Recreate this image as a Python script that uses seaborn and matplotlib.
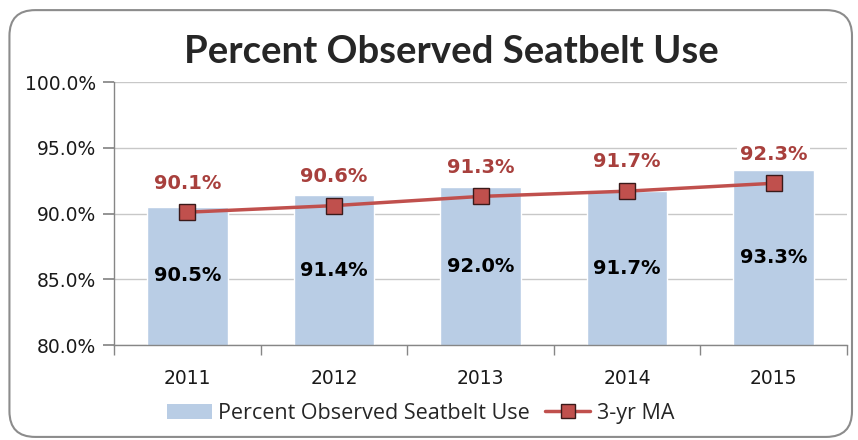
import matplotlib
matplotlib.use("Agg")
import matplotlib.pyplot as plt
import numpy as np
import pandas as pd
import seaborn as sns
from matplotlib.lines import Line2D
from matplotlib.patches import FancyBboxPatch, Patch
from matplotlib.ticker import FixedLocator, PercentFormatter

years = ["2011", "2012", "2013", "2014", "2015"]
observed = [90.5, 91.4, 92.0, 91.7, 93.3]
moving_avg = [90.1, 90.6, 91.3, 91.7, 92.3]

BAR_COLOR = "#B9CDE5"
LINE_COLOR = "#C0504D"
LABEL_RED = "#A8403D"
AXIS_GRAY = "#868686"

sns.set_theme(style="white")
plt.rcParams["font.family"] = ["DejaVu Sans"]

df = pd.DataFrame({"year": years, "observed": observed, "ma": moving_avg})

fig = plt.figure(figsize=(8.58, 4.40), dpi=100)
ax = fig.add_axes([0.1329, 0.2159, 0.8543, 0.5977])

# rounded chart border
fig.patches.append(FancyBboxPatch((0.011, 0.007), 0.982, 0.97,
                                  boxstyle="round,pad=0,rounding_size=0.03",
                                  transform=fig.transFigure, fill=False,
                                  edgecolor="#8C8C8C", linewidth=1.5,
                                  mutation_aspect=858 / 440))

sns.barplot(data=df, x="year", y="observed", color=BAR_COLOR, width=0.55,
            saturation=1, ax=ax, zorder=2)
ax.plot(np.arange(len(years)), moving_avg, color=LINE_COLOR, linewidth=2.5,
        marker="s", markersize=11.5, markerfacecolor=LINE_COLOR,
        markeredgecolor="#3A1A1A", markeredgewidth=1.0, zorder=4)

ax.set_ylim(80, 100)
ax.set_xlim(-0.5, len(years) - 0.5)
ax.yaxis.set_major_locator(FixedLocator([80, 85, 90, 95, 100]))
ax.yaxis.set_major_formatter(PercentFormatter(decimals=1))
ax.grid(axis="y", color="#C8C8C8", linewidth=1.0, zorder=0)
ax.set_axisbelow(True)

for side in ["top", "right"]:
    ax.spines[side].set_visible(False)
for side in ["left", "bottom"]:
    ax.spines[side].set_color(AXIS_GRAY)
    ax.spines[side].set_linewidth(1.0)

ax.tick_params(axis="y", which="major", direction="out", length=8,
               color=AXIS_GRAY, labelsize=13.5, pad=5, left=True,
               labelcolor="#1A1A1A")
ax.xaxis.set_minor_locator(FixedLocator(np.arange(-0.5, len(years), 1.0)))
ax.tick_params(axis="x", which="major", length=0, labelsize=13.5, pad=17,
               labelcolor="#1A1A1A")
ax.tick_params(axis="x", which="minor", direction="out", length=7,
               color=AXIS_GRAY, bottom=True)
ax.set_xlabel("")
ax.set_ylabel("")

for i, v in enumerate(observed):
    ax.text(i, (80 + v) / 2, f"{v:.1f}%", ha="center", va="center",
            fontsize=14, fontweight="bold", color="black", zorder=5)
for i, v in enumerate(moving_avg):
    ax.annotate(f"{v:.1f}%", (i, v), xytext=(0, 21), textcoords="offset points",
                ha="center", va="center", fontsize=14, fontweight="bold",
                color=LABEL_RED, zorder=5,
                bbox=dict(boxstyle="square,pad=0.15", fc="white", ec="none"))

fig.text(0.526, 0.882, "Percent Observed Seatbelt Use", ha="center", va="center",
         fontsize=27.5, fontweight="bold", family=["Lato", "DejaVu Sans"])

handles = [Patch(facecolor=BAR_COLOR, edgecolor="none"),
           Line2D([0], [0], color=LINE_COLOR, linewidth=2.5, marker="s",
                  markersize=10, markerfacecolor=LINE_COLOR,
                  markeredgecolor="#3A1A1A")]
fig.legend(handles, ["Percent Observed Seatbelt Use", "3-yr MA"],
           loc="center", bbox_to_anchor=(0.49, 0.061), ncol=2, frameon=False,
           prop={"family": ["Open Sans", "DejaVu Sans"], "size": 15.5},
           handlelength=2.1, columnspacing=0.7, handletextpad=0.3)

fig.savefig("out.png", dpi=100)
